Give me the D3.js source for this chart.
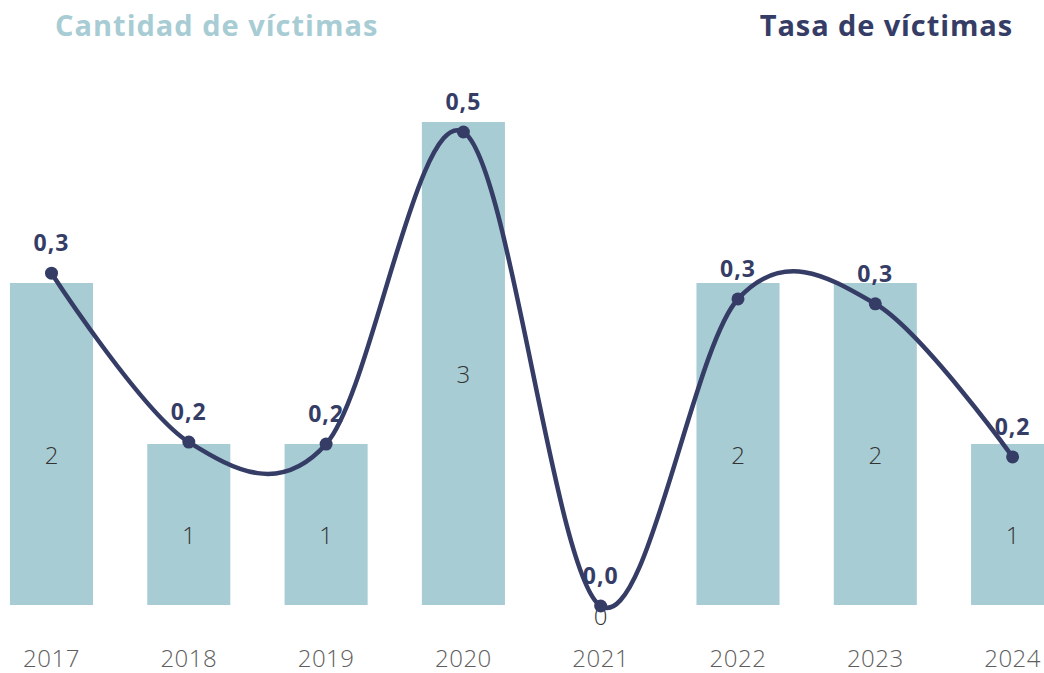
<!DOCTYPE html>
<html>
<head>
<meta charset="utf-8">
<script src="https://cdn.jsdelivr.net/npm/d3@7"></script>
<style>
  body { margin: 0; background: #fff; }
  svg { display: block; font-family: 'Open Sans', sans-serif; }
</style>
</head>
<body>
<div id="chart"></div>
<script>
// Data
const years = ['2017', '2018', '2019', '2020', '2021', '2022', '2023', '2024']
const victims = [2, 1, 1, 3, 0, 2, 2, 1]
const rates = [0.337, 0.166, 0.164, 0.48, 0, 0.311, 0.306, 0.151]

const width = 1044
const height = 673
const barColor = '#a7ccd4'
const lineColor = '#353d66'

const svg = d3.select('#chart')
  .append('svg')
  .attr('width', width)
  .attr('height', height)

// Scales
const xScale = d3.scaleBand()
  .domain(years)
  .range([-17.15, 1081.25])
  .paddingInner(0.395)
  .paddingOuter(0.1975)
const yBar = d3.scaleLinear().domain([0, 3]).range([605, 122])
const yRate = d3.scaleLinear().domain([0, 0.48]).range([606, 132])
const cx = d => xScale(d) + xScale.bandwidth() / 2

// Titles
svg.append('text')
  .attr('x', 55)
  .attr('y', 36)
  .style('font-size', '29px')
  .style('font-weight', 700)
  .style('letter-spacing', '1px')
  .style('fill', barColor)
  .text('Cantidad de víctimas')
svg.append('text')
  .attr('x', 1013)
  .attr('y', 36)
  .attr('text-anchor', 'end')
  .style('font-size', '29px')
  .style('font-weight', 700)
  .style('letter-spacing', '0.9px')
  .style('fill', lineColor)
  .text('Tasa de víctimas')

// Bars
svg.append('g').selectAll('rect')
  .data(years)
  .join('rect')
  .attr('x', d => xScale(d))
  .attr('width', xScale.bandwidth())
  .attr('y', (d, i) => yBar(victims[i]))
  .attr('height', (d, i) => yBar(0) - yBar(victims[i]))
  .style('fill', barColor)

// Bar value labels
svg.append('g').selectAll('text')
  .data(years)
  .join('text')
  .attr('x', d => cx(d))
  .attr('y', (d, i) => (yBar(victims[i]) + yBar(0)) / 2 + 10)
  .attr('text-anchor', 'middle')
  .attr('dominant-baseline', 'central')
  .style('font-size', '24px')
  .style('font-weight', 300)
  .style('fill', '#333')
  .text((d, i) => victims[i])

// Year axis labels
svg.append('g').selectAll('text')
  .data(years)
  .join('text')
  .attr('x', d => cx(d))
  .attr('y', 667)
  .attr('text-anchor', 'middle')
  .style('font-size', '24px')
  .style('font-weight', 300)
  .style('letter-spacing', '0.5px')
  .style('fill', '#5e5e5e')
  .text(d => d)

// Rate labels
svg.append('g').selectAll('text')
  .data(years)
  .join('text')
  .attr('x', d => cx(d))
  .attr('y', (d, i) => yRate(rates[i]) - 31)
  .attr('text-anchor', 'middle')
  .attr('dominant-baseline', 'central')
  .style('font-size', '23px')
  .style('font-weight', 700)
  .style('letter-spacing', '1px')
  .style('fill', lineColor)
  .text((d, i) => rates[i].toFixed(1).replace('.', ','))

// Rate line
const linePath = d3.line()
  .curve(d3.curveCardinal.tension(0))
  .x(d => cx(d.year))
  .y(d => yRate(d.rate))
const lineData = years.map((y, i) => ({year: y, rate: rates[i]}))

svg.append('path')
  .datum(lineData)
  .attr('d', linePath)
  .style('fill', 'none')
  .style('stroke', lineColor)
  .style('stroke-width', 4.5)

svg.append('g').selectAll('circle')
  .data(lineData)
  .join('circle')
  .attr('cx', d => cx(d.year))
  .attr('cy', d => yRate(d.rate))
  .attr('r', 6.5)
  .style('fill', lineColor)
</script>
</body>
</html>
